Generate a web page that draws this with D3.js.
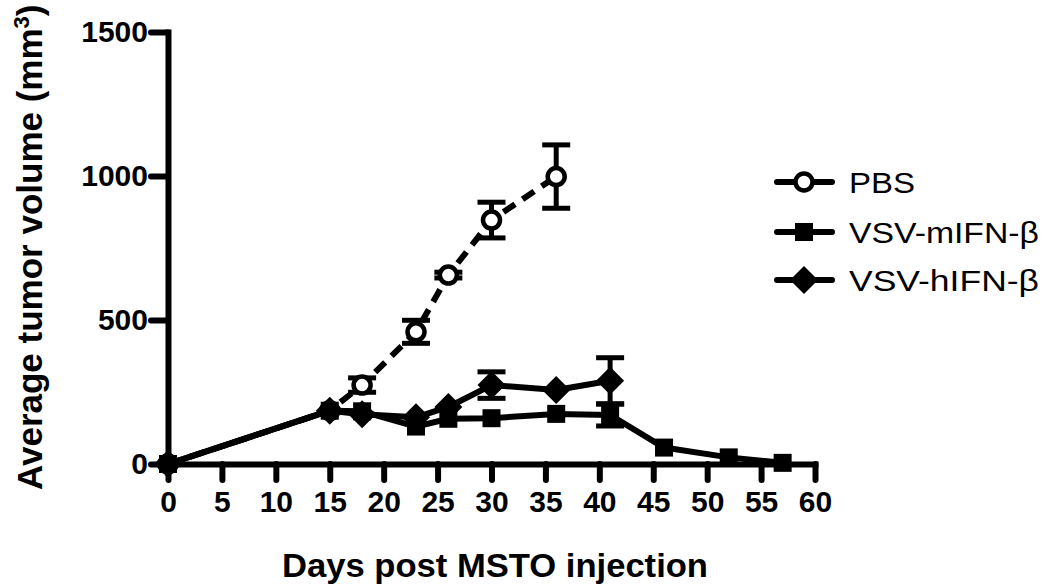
<!DOCTYPE html>
<html><head><meta charset="utf-8">
<script src="https://cdn.jsdelivr.net/npm/d3@7"></script>
<style>body{margin:0;background:#fff} svg{display:block} text{font-family:Arial,"Liberation Sans",Helvetica,sans-serif}</style>
</head><body><svg id="chart" width="1050" height="584"></svg>
<script>
// ---- data ----
const pbsDays = [0, 15, 18, 23, 26, 30, 36];
const pbsMean = [0, 185, 274, 459, 656, 847, 998];
const pbsErr  = [0, 0, 25, 40, 10, 62, 110];

const mDays = [0, 15, 18, 23, 26, 30, 36, 41, 46, 52, 57];
const mMean = [0, 185, 183, 130, 157, 159, 174, 170, 57, 23, 4];
const mErr  = [0, 0, 0, 0, 0, 0, 0, 38, 0, 0, 0];

const hDays = [0, 15, 18, 23, 26, 30, 36, 41];
const hMean = [0, 185, 173, 162, 198, 274, 257, 289];
const hErr  = [0, 0, 0, 0, 0, 46, 0, 80];

const seriesNames = ["PBS", "VSV-mIFN-β", "VSV-hIFN-β"];
const xTicks = [0, 5, 10, 15, 20, 25, 30, 35, 40, 45, 50, 55, 60];
const yTicks = [0, 500, 1000, 1500];
const xTitle = "Days post MSTO injection";
const yTitle = "Average tumor volume (mm";

// ---- drawing ----
const svg = d3.select("#chart");
const x = d3.scaleLinear().domain([0, 60]).range([168, 815]);
const y = d3.scaleLinear().domain([0, 1500]).range([464, 32]);
const LW = 6;

const zip = (d, m, e) => d.map((v, i) => ({x: v, y: m[i], e: e[i]}));
const pbs = zip(pbsDays, pbsMean, pbsErr);
const mif = zip(mDays, mMean, mErr);
const hif = zip(hDays, hMean, hErr);

// axes
const yAxis = d3.axisLeft(y).tickValues(yTicks).tickSize(17).tickSizeOuter(0).tickPadding(3).tickFormat(d3.format("d"));
const xAxis = d3.axisBottom(x).tickValues(xTicks).tickSize(16).tickSizeOuter(0).tickPadding(11).tickFormat(d3.format("d"));

function styleAxis(g) {
  g.select(".domain").attr("stroke", "#000").attr("stroke-width", LW).attr("stroke-linecap", "square");
  g.selectAll(".tick line").attr("stroke", "#000").attr("stroke-width", LW).attr("stroke-linecap", "round");
  g.selectAll(".tick text").attr("fill", "#000").attr("font-size", 30).attr("font-weight", "bold")
    .attr("font-family", "Arial, 'Liberation Sans', sans-serif");
}
svg.append("g").attr("transform", `translate(${x(0)},0)`).call(yAxis).call(styleAxis);
svg.append("g").attr("transform", `translate(0,${y(0)})`).call(xAxis).call(styleAxis);

// titles
svg.append("text").attr("x", 495).attr("y", 577).attr("text-anchor", "middle")
  .attr("font-size", 34).attr("font-weight", "bold")
  .attr("textLength", 426).attr("lengthAdjust", "spacingAndGlyphs").text(xTitle);

const yt = svg.append("text").attr("transform", "translate(42,490) rotate(-90)")
  .attr("font-size", 35).attr("font-weight", "bold");
yt.append("tspan").text(yTitle);
yt.append("tspan").attr("font-size", 22).attr("dy", -13).text("3");
yt.append("tspan").attr("dy", 13).text(")");

// lines
const line = d3.line().x(d => x(d.x)).y(d => y(d.y));
const plot = svg.append("g");

function errorBars(data) {
  const g = plot.append("g").attr("stroke", "#000").attr("stroke-width", 5);
  const eb = data.filter(d => d.e > 0);
  g.selectAll(".v").data(eb).join("line")
    .attr("x1", d => x(d.x)).attr("x2", d => x(d.x))
    .attr("y1", d => y(d.y - d.e)).attr("y2", d => y(d.y + d.e));
  g.selectAll(".t").data(eb).join("line")
    .attr("x1", d => x(d.x) - 14).attr("x2", d => x(d.x) + 14)
    .attr("y1", d => y(d.y + d.e)).attr("y2", d => y(d.y + d.e));
  g.selectAll(".b").data(eb).join("line")
    .attr("x1", d => x(d.x) - 14).attr("x2", d => x(d.x) + 14)
    .attr("y1", d => y(d.y - d.e)).attr("y2", d => y(d.y - d.e));
}

const diamond = "M0,-14L14,0L0,14L-14,0Z";

// PBS
plot.append("path").datum(pbs).attr("d", line).attr("fill", "none").attr("stroke", "#000")
  .attr("stroke-width", LW).attr("stroke-dasharray", "14,9");
errorBars(pbs);
plot.append("g").selectAll("circle").data(pbs).join("circle")
  .attr("cx", d => x(d.x)).attr("cy", d => y(d.y)).attr("r", 8.5)
  .attr("fill", "#fff").attr("stroke", "#000").attr("stroke-width", 4.5);

// mIFN
plot.append("path").datum(mif).attr("d", line).attr("fill", "none").attr("stroke", "#000")
  .attr("stroke-width", LW).attr("stroke-linejoin", "round");
errorBars(mif);
plot.append("g").selectAll("rect").data(mif).join("rect")
  .attr("x", d => x(d.x) - 9).attr("y", d => y(d.y) - 9).attr("width", 18).attr("height", 18).attr("fill", "#000");

// hIFN
plot.append("path").datum(hif).attr("d", line).attr("fill", "none").attr("stroke", "#000")
  .attr("stroke-width", LW).attr("stroke-linejoin", "round");
errorBars(hif);
plot.append("g").selectAll("path").data(hif).join("path")
  .attr("d", diamond).attr("transform", d => `translate(${x(d.x)},${y(d.y)})`).attr("fill", "#000");

// legend
const legY = [182, 232, 280];
const legW = [66, 190, 190];
const lg = svg.append("g");
seriesNames.forEach((name, i) => {
  const cy = legY[i];
  lg.append("line").attr("x1", 777).attr("x2", 832).attr("y1", cy).attr("y2", cy)
    .attr("stroke", "#000").attr("stroke-width", LW).attr("stroke-linecap", "round");
  if (i === 0) lg.append("circle").attr("cx", 804).attr("cy", cy).attr("r", 8.5).attr("fill", "#fff").attr("stroke", "#000").attr("stroke-width", 4.5);
  if (i === 1) lg.append("rect").attr("x", 795).attr("y", cy - 9).attr("width", 18).attr("height", 18).attr("fill", "#000");
  if (i === 2) lg.append("path").attr("d", diamond).attr("transform", `translate(804,${cy})`).attr("fill", "#000");
  lg.append("text").attr("x", 849).attr("y", cy + 11).attr("font-size", 30)
    .attr("textLength", legW[i]).attr("lengthAdjust", "spacingAndGlyphs").text(name);
});
</script>
</body></html>
